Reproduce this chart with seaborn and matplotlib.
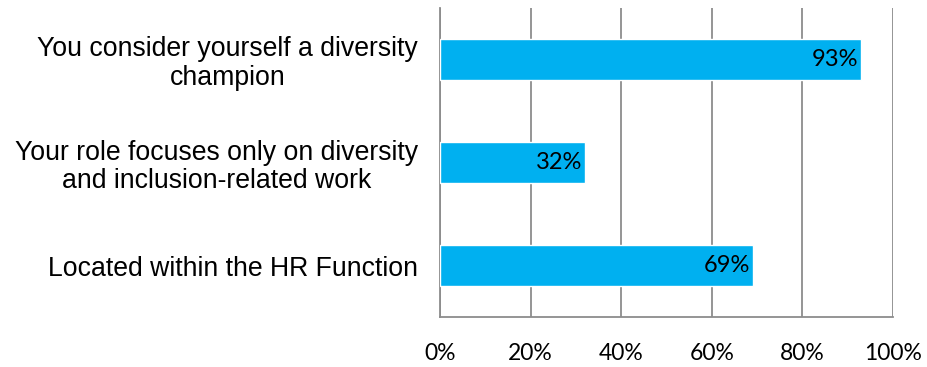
import matplotlib
matplotlib.use("Agg")
import matplotlib.pyplot as plt
import seaborn as sns
import pandas as pd

categories = [
    "You consider yourself a diversity\nchampion",
    "Your role focuses only on diversity\nand inclusion-related work",
    "Located within the HR Function",
]
values = [93, 32, 69]
x_ticks = [0, 20, 40, 60, 80, 100]
x_tick_labels = ["0%", "20%", "40%", "60%", "80%", "100%"]

df = pd.DataFrame({"category": categories, "value": values})

sns.set_theme(style="white")
plt.rcParams["font.family"] = ["Liberation Sans", "DejaVu Sans"]

fig = plt.figure(figsize=(9.27, 3.67), dpi=100)
ax = fig.add_axes([440 / 927, 1 - 317 / 367, 453 / 927, 309 / 367])

sns.barplot(data=df, x="value", y="category", color="#00B0F0", width=0.4,
            saturation=1, ax=ax, zorder=3)

ax.set_xlim(0, 100)
ax.set_xticks(x_ticks)
ax.set_xticklabels(x_tick_labels, fontfamily="Lato", fontsize=16.5)
ax.set_xlabel("")
ax.set_ylabel("")
ax.tick_params(axis="x", length=0, pad=19, colors="black")
ax.tick_params(axis="y", length=0, pad=16, labelsize=19.2, colors="black")
for lbl in ax.get_yticklabels():
    lbl.set_multialignment("center")
    lbl.set_linespacing(1.12)

ax.grid(axis="x", color="#8c8c8c", linewidth=1.3, zorder=0)
ax.grid(axis="y", visible=False)
for side in ["top", "right"]:
    ax.spines[side].set_visible(False)
for side in ["left", "bottom"]:
    ax.spines[side].set_color("#8c8c8c")
    ax.spines[side].set_linewidth(1.3)

# value labels inside the end of each bar
for i, v in enumerate(values):
    ax.annotate(f"{v}%", xy=(v, i), xytext=(-2, 0), textcoords="offset points",
                ha="right", va="center", fontfamily="Lato", fontsize=17,
                color="black", zorder=4)

fig.savefig("out.png", dpi=100)
